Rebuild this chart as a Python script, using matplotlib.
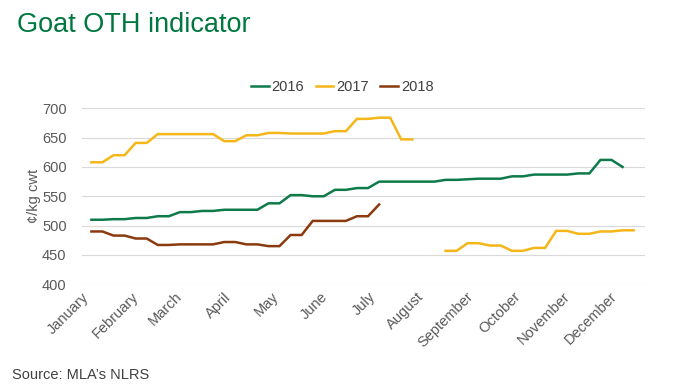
import numpy as np
import pandas as pd
import matplotlib
matplotlib.use("Agg")
import matplotlib.pyplot as plt
import matplotlib.dates as mdates

plt.rcParams['font.family'] = ['Liberation Sans', 'DejaVu Sans']

# Weekly goat OTH indicator (c/kg cwt), week 1 = first week of January
nan = np.nan
vals_2016 = [510, 510, 511, 511, 513, 513, 516, 516, 523, 523, 525, 525, 527, 527,
             527, 527, 538, 538, 552, 552, 550, 550, 561, 561, 564, 564, 575, 575,
             575, 575, 575, 575, 578, 578, 579, 580, 580, 580, 584, 584, 587, 587,
             587, 587, 589, 589, 612, 612, 600]
vals_2017 = [608, 608, 620, 620, 641, 641, 656, 656, 656, 656, 656, 656, 644, 644,
             654, 654, 658, 658, 657, 657, 657, 657, 661, 661, 682, 682, 684, 684,
             647, 647, nan, nan, 457, 457, 470, 470, 466, 466, 457, 457, 462, 462,
             491, 491, 486, 486, 490, 490, 492, 492]
vals_2018 = [490, 490, 483, 483, 478, 478, 467, 467, 468, 468, 468, 468, 472, 472,
             468, 468, 465, 465, 484, 484, 508, 508, 508, 508, 516, 516, 536]

series = [('2016', vals_2016, '#0E7A4A'),
          ('2017', vals_2017, '#F4B619'),
          ('2018', vals_2018, '#8A3A0E')]

# common calendar year for the seasonal x axis
weeks = pd.date_range('2017-01-07', periods=52, freq='7D')

fig = plt.figure(figsize=(7, 3.91), dpi=100, facecolor='white')
ax = fig.add_axes([0.117, 0.273, 0.804, 0.450])

for name, vals, color in series:
    ax.plot(weeks[:len(vals)], vals, color=color, linewidth=1.8, label=name,
            solid_joinstyle='miter')

ax.set_ylim(400, 700)
ax.set_yticks(np.arange(400, 701, 50))
ax.set_xlim(pd.Timestamp('2017-01-01'), pd.Timestamp('2017-12-23'))
ax.xaxis.set_major_locator(mdates.MonthLocator())
ax.xaxis.set_major_formatter(mdates.DateFormatter('%B'))

ax.grid(axis='y', color='#D9D9D9', linewidth=0.8)
ax.set_axisbelow(True)
for s in ax.spines.values():
    s.set_visible(False)
ax.tick_params(length=0, labelsize=10.5, labelcolor='#595959')
ax.tick_params(axis='y', pad=11)
ax.tick_params(axis='x', pad=4)
for lab in ax.get_xticklabels():
    lab.set_rotation(45)
    lab.set_ha('right')
    lab.set_va('top')
    lab.set_rotation_mode('anchor')

ax.set_ylabel('¢/kg cwt', fontsize=10.5, color='#595959')
ax.yaxis.set_label_coords(-0.072, 0.5)

fig.legend(loc='center', bbox_to_anchor=(0.489, 0.777), ncol=3, frameon=False,
           fontsize=10.5, handlelength=1.2, handletextpad=0.2, columnspacing=0.8,
           labelcolor='#404040')

fig.text(0.024, 0.935, 'Goat OTH indicator', fontsize=19.5, color='#00773F',
         ha='left', va='center')
fig.text(0.017, 0.04, "Source: MLA\u2019s NLRS", fontsize=10.5, color='#404040',
         ha='left', va='center')

fig.savefig('out.png', dpi=100, facecolor='white')
